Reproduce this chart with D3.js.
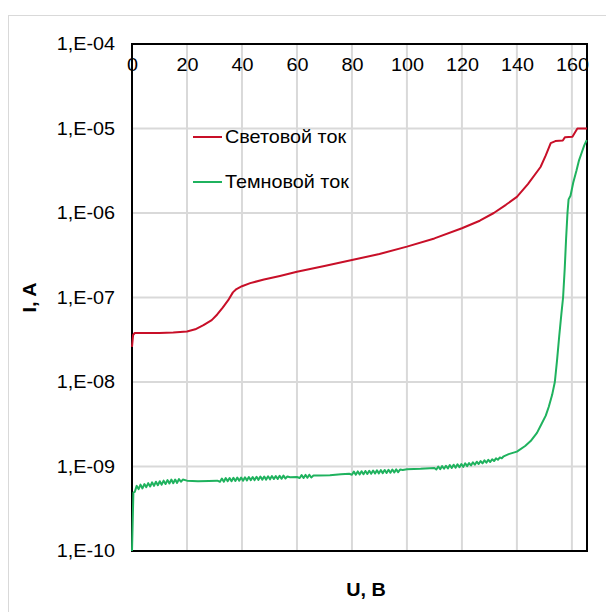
<!DOCTYPE html>
<html>
<head>
<meta charset="utf-8">
<script src="https://cdn.jsdelivr.net/npm/d3@7"></script>
<style>
  html, body { margin: 0; padding: 0; background: #ffffff; }
  svg { display: block; }
  text { font-family: "Liberation Sans", Arial, sans-serif; fill: #000; }
</style>
</head>
<body>
<script>
// ---------- data ----------
const xTicks = [0, 20, 40, 60, 80, 100, 120, 140, 160];
const yTicks = [1e-10, 1e-9, 1e-8, 1e-7, 1e-6, 1e-5, 1e-4];
const yTickLabels = ["1,E-10", "1,E-09", "1,E-08", "1,E-07", "1,E-06", "1,E-05", "1,E-04"];
const seriesNames = ["Световой ток", "Темновой ток"];
const seriesColors = ["#c80f28", "#1fb25e"];
const xTitle = "U, B";
const yTitle = "I, A";

// Световой ток (light current)
const lightU = [0, 0.4, 1, 5, 10, 15, 20, 23, 26, 29, 31, 33, 35, 36.7, 38, 40, 43, 48, 53.8, 60, 70, 80, 90, 100, 110, 120, 126.5, 131.6, 136, 140, 144, 148.6, 150.5, 152.3, 154, 156.7, 157.5, 160.2, 162, 165.5];
const lightI = [2.6e-8, 3.6e-8, 3.8e-8, 3.8e-8, 3.8e-8, 3.85e-8, 3.95e-8, 4.2e-8, 4.7e-8, 5.4e-8, 6.3e-8, 7.6e-8, 9.3e-8, 1.15e-7, 1.26e-7, 1.36e-7, 1.48e-7, 1.63e-7, 1.8e-7, 2.02e-7, 2.36e-7, 2.78e-7, 3.27e-7, 4.0e-7, 5.0e-7, 6.6e-7, 8.1e-7, 1.0e-6, 1.25e-6, 1.55e-6, 2.2e-6, 3.5e-6, 4.8e-6, 6.7e-6, 7.1e-6, 7.2e-6, 7.9e-6, 8.0e-6, 1.0e-5, 1.0e-5];

// Темновой ток (dark current)
const darkU = [0, 0.5, 1.0, 1.7, 2.4, 3.1, 3.8, 4.5, 5.2, 5.9, 6.6, 7.3, 8.0, 8.7, 9.4, 10.1, 10.8, 11.5, 12.2, 12.9, 13.6, 14.3, 15.0, 15.7, 16.4, 17.1, 17.8, 18.5,
  20, 24, 28, 31,
  32.0, 32.7, 33.4, 34.1, 34.8, 35.5, 36.2, 36.9, 37.6, 38.3, 39.0, 39.7, 40.4, 41.1, 41.8, 42.5, 43.2, 43.9, 44.6, 45.3, 46.0, 46.7, 47.4, 48.1, 48.8, 49.5, 50.2, 50.9, 51.6, 52.3, 53.0, 53.7, 54.4, 55.1, 55.8, 56.5,
  57.5, 60,
  61.0, 61.7, 62.4, 63.1, 63.8, 64.5, 65.2, 66.0,
  68, 72, 76, 79,
  80.0, 80.7, 81.4, 82.1, 82.8, 83.5, 84.2, 84.9, 85.6, 86.3, 87.0, 87.7, 88.4, 89.1, 89.8, 90.5, 91.2, 91.9, 92.6, 93.3, 94.0, 94.7, 95.4, 96.1, 96.8, 97.5,
  98.5, 100, 105, 110,
  110.7, 111.4, 112.1, 112.8, 113.5, 114.2, 114.9, 115.6, 116.3, 117.0, 117.7, 118.4, 119.1, 119.8, 120.5, 121.2, 121.9, 122.6, 123.3, 124.0, 124.7, 125.4, 126.1, 126.8, 127.5, 128.2, 128.9, 129.6, 130.3, 131.0, 131.7, 132.4, 133.1, 133.8, 134.5, 135.2,
  137, 140, 143, 145, 147.3, 149, 150.5, 151.6, 152.8, 153.8, 154.6, 155.4, 156.2, 156.8, 157.4, 157.9, 158.4, 158.8, 159.5, 160.5, 161.7, 162.6, 163.5, 164.5, 165.4];
const darkI = [1.0e-10, 4.9e-10, 5.0e-10, 5.9e-10, 5.4e-10, 6.1e-10, 5.5e-10, 6.2e-10, 5.7e-10, 6.35e-10, 5.8e-10, 6.5e-10, 5.9e-10, 6.6e-10, 6.0e-10, 6.7e-10, 6.1e-10, 6.8e-10, 6.2e-10, 6.9e-10, 6.3e-10, 7.0e-10, 6.35e-10, 7.0e-10, 6.4e-10, 7.1e-10, 6.6e-10, 7.0e-10,
  6.8e-10, 6.7e-10, 6.75e-10, 6.8e-10,
  6.6e-10, 7.2e-10, 6.6e-10, 7.3e-10, 6.7e-10, 7.3e-10, 6.7e-10, 7.35e-10, 6.75e-10, 7.4e-10, 6.8e-10, 7.4e-10, 6.8e-10, 7.45e-10, 6.85e-10, 7.5e-10, 6.9e-10, 7.5e-10, 6.9e-10, 7.55e-10, 6.95e-10, 7.6e-10, 7.0e-10, 7.6e-10, 7.0e-10, 7.65e-10, 7.05e-10, 7.7e-10, 7.1e-10, 7.7e-10, 7.1e-10, 7.75e-10, 7.15e-10, 7.8e-10, 7.2e-10, 7.6e-10,
  7.45e-10, 7.5e-10,
  7.3e-10, 7.9e-10, 7.3e-10, 7.95e-10, 7.35e-10, 8.0e-10, 7.4e-10, 7.8e-10,
  7.8e-10, 7.9e-10, 8.1e-10, 8.2e-10,
  8.0e-10, 8.7e-10, 8.0e-10, 8.75e-10, 8.05e-10, 8.8e-10, 8.1e-10, 8.85e-10, 8.15e-10, 8.9e-10, 8.2e-10, 8.95e-10, 8.25e-10, 9.0e-10, 8.3e-10, 9.05e-10, 8.35e-10, 9.1e-10, 8.4e-10, 9.15e-10, 8.45e-10, 9.2e-10, 8.5e-10, 9.25e-10, 8.55e-10, 9.2e-10,
  9.1e-10, 9.3e-10, 9.4e-10, 9.6e-10,
  9.2e-10, 1.0e-9, 9.3e-10, 1.01e-9, 9.4e-10, 1.02e-9, 9.5e-10, 1.04e-9, 9.6e-10, 1.05e-9, 9.7e-10, 1.06e-9, 9.8e-10, 1.07e-9, 9.9e-10, 1.09e-9, 1.01e-9, 1.1e-9, 1.03e-9, 1.12e-9, 1.05e-9, 1.14e-9, 1.07e-9, 1.16e-9, 1.09e-9, 1.18e-9, 1.11e-9, 1.2e-9, 1.13e-9, 1.22e-9, 1.16e-9, 1.25e-9, 1.2e-9, 1.28e-9, 1.25e-9, 1.32e-9,
  1.4e-9, 1.5e-9, 1.75e-9, 2.0e-9, 2.5e-9, 3.2e-9, 4.0e-9, 5.1e-9, 7.0e-9, 1.0e-8, 1.8e-8, 3.5e-8, 6.5e-8, 1.0e-7, 2.2e-7, 5.0e-7, 1.0e-6, 1.45e-6, 1.6e-6, 2.3e-6, 3.2e-6, 4.2e-6, 5.1e-6, 6.3e-6, 7.3e-6];

// ---------- layout ----------
const W = 606, H = 612;
const plot = { left: 132, right: 587, top: 44, bottom: 551 };
const FONT = '"Liberation Sans", Arial, sans-serif';
const STRETCH = 1.1; // glyphs in the reference are a little wider than Liberation Sans

const svg = d3.select("body").append("svg").attr("width", W).attr("height", H);

// outer chart-area border
svg.append("rect")
  .attr("x", 8.5).attr("y", 15.5).attr("width", 620).attr("height", 620)
  .attr("fill", "#fff").attr("stroke", "#d9d9d9").attr("stroke-width", 1);

const x = d3.scaleLinear().domain([0, 165.5]).range([plot.left, plot.right]);
const y = d3.scaleLog().domain([1e-10, 1e-4]).range([plot.bottom, plot.top]);

// gridlines
const grid = svg.append("g");
grid.selectAll("line.v").data(xTicks.filter(d => d > 0)).join("line")
  .attr("x1", d => x(d)).attr("x2", d => x(d))
  .attr("y1", plot.top).attr("y2", plot.bottom)
  .attr("stroke", "#d9d9d9").attr("stroke-width", 2);
grid.selectAll("line.h").data(yTicks.slice(1, -1)).join("line")
  .attr("x1", plot.left).attr("x2", plot.right)
  .attr("y1", d => y(d)).attr("y2", d => y(d))
  .attr("stroke", "#d9d9d9").attr("stroke-width", 2);

// frame
svg.append("rect")
  .attr("x", plot.left).attr("y", plot.top)
  .attr("width", plot.right - plot.left).attr("height", plot.bottom - plot.top)
  .attr("fill", "none").attr("stroke", "#000").attr("stroke-width", 2);

// y axis labels
const yAxis = d3.axisLeft(y).tickValues(yTicks)
  .tickFormat((d, i) => yTickLabels[i]).tickSize(0).tickPadding(0);
const gy = svg.append("g").attr("transform", `translate(${plot.left},0)`).call(yAxis);
gy.select(".domain").remove();
gy.selectAll("text")
  .attr("x", -17 / STRETCH)
  .attr("transform", `scale(${STRETCH},1)`)
  .style("font-size", "18px").attr("fill", "#000").style("font-family", FONT);

// x axis labels (placed just inside the top of the plot)
const xAxis = d3.axisBottom(x).tickValues(xTicks).tickSize(0).tickPadding(14);
const gx = svg.append("g").attr("transform", `translate(0,${plot.top})`).call(xAxis);
gx.select(".domain").remove();
gx.selectAll("text")
  .attr("transform", `scale(${STRETCH},1)`)
  .style("font-size", "18px").attr("fill", "#000").style("font-family", FONT);

// lines
const line = d3.line().x(d => x(d[0])).y(d => y(d[1]));
const lightData = lightU.map((u, i) => [u, lightI[i]]);
const darkData = darkU.map((u, i) => [u, darkI[i]]);

svg.append("path").datum(lightData)
  .attr("d", line).attr("fill", "none")
  .attr("stroke", seriesColors[0]).attr("stroke-width", 2).attr("stroke-linejoin", "round");
svg.append("path").datum(darkData)
  .attr("d", line).attr("fill", "none")
  .attr("stroke", seriesColors[1]).attr("stroke-width", 2).attr("stroke-linejoin", "round");

// legend
const legend = svg.append("g");
const legendY = [137, 182];
seriesNames.forEach((name, i) => {
  legend.append("line")
    .attr("x1", 193).attr("x2", 222)
    .attr("y1", legendY[i]).attr("y2", legendY[i])
    .attr("stroke", seriesColors[i]).attr("stroke-width", 2);
  legend.append("g")
    .attr("transform", `translate(225,${legendY[i]}) scale(${STRETCH},1)`)
    .append("text")
    .attr("dy", "0.35em")
    .style("font-size", "18px").text(name);
});

// axis titles
svg.append("g")
  .attr("transform", `translate(366,590) scale(${STRETCH},1)`)
  .append("text")
  .attr("dy", "0.35em")
  .attr("text-anchor", "middle")
  .style("font-size", "18px").style("font-weight", "bold")
  .text(xTitle);
svg.append("g")
  .attr("transform", `translate(30,${(plot.top + plot.bottom) / 2}) rotate(-90) scale(${STRETCH},1)`)
  .append("text")
  .attr("dy", "0.35em")
  .attr("text-anchor", "middle")
  .style("font-size", "18px").style("font-weight", "bold")
  .text(yTitle);
</script>
</body>
</html>
